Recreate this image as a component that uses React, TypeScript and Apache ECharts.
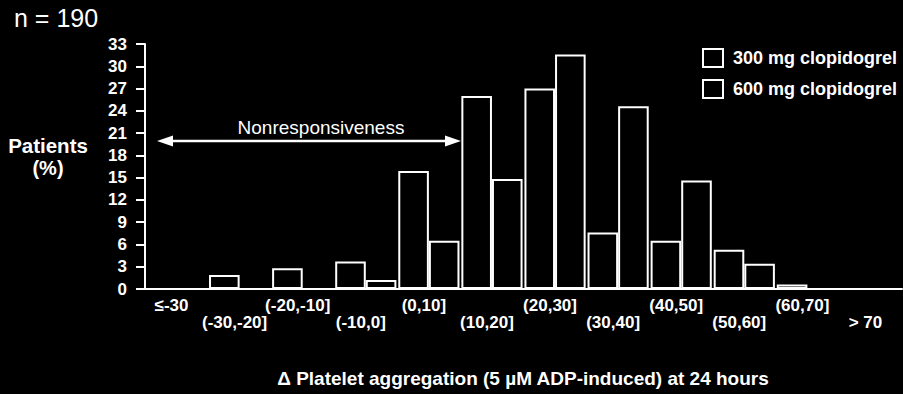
import React, { useEffect, useRef } from "react";
import * as echarts from "echarts";

const categories = [
  "≤-30", "(-30,-20]", "(-20,-10]", "(-10,0]", "(0,10]", "(10,20]",
  "(20,30]", "(30,40]", "(40,50]", "(50,60]", "(60,70]", "> 70",
];
const clopidogrel300 = [0, 1.9, 2.8, 3.7, 15.9, 26.0, 27.0, 7.6, 6.5, 5.3, 0.6, 0];
const clopidogrel600 = [0, 0, 0, 1.2, 6.5, 14.8, 31.6, 24.6, 14.6, 3.4, 0, 0];
const yTicks = { min: 0, max: 33, interval: 3 };
const seriesNames = ["300 mg clopidogrel", "600 mg clopidogrel"];

const FONT = "'Liberation Sans', Arial, Helvetica, sans-serif";

export default function App() {
  const ref = useRef<HTMLDivElement>(null);
  useEffect(() => {
    if (!ref.current) return;
    const chart = echarts.init(ref.current, null, { renderer: "svg" });
    const barStyle = { color: "#000", borderColor: "#fff", borderWidth: 2 };
    chart.setOption({
      animation: false,
      backgroundColor: "#000",
      grid: { left: 145, right: 1, top: 44, bottom: 105, containLabel: false },
      legend: {
        data: seriesNames,
        orient: "vertical",
        left: 702,
        top: 48,
        itemWidth: 20,
        itemHeight: 18,
        itemGap: 11,
        icon: "rect",
        padding: 0,
        textStyle: {
          color: "#fff",
          fontSize: 18,
          fontWeight: "bold",
          fontFamily: FONT,
          padding: [0, 0, 0, 5],
        },
      },
      xAxis: {
        type: "category",
        data: categories,
        boundaryGap: true,
        axisLine: { show: true, lineStyle: { color: "#fff", width: 2 } },
        axisTick: { show: false },
        axisLabel: {
          interval: 0,
          color: "#fff",
          fontSize: 17,
          fontWeight: "bold",
          fontFamily: FONT,
          margin: 8,
          lineHeight: 17,
          padding: [0, 10, 0, 0],
          formatter: (v: string, i: number) => (i % 2 ? "\n" + v : v),
        },
        splitLine: { show: false },
      },
      yAxis: {
        type: "value",
        min: yTicks.min,
        max: yTicks.max,
        interval: yTicks.interval,
        axisLine: { show: true, lineStyle: { color: "#fff", width: 2 } },
        axisTick: { show: true, length: 9, lineStyle: { color: "#fff", width: 2 } },
        axisLabel: {
          color: "#fff",
          fontSize: 17,
          fontWeight: "bold",
          fontFamily: FONT,
          margin: 18,
        },
        splitLine: { show: false },
      },
      series: [
        {
          name: seriesNames[0],
          type: "bar",
          data: clopidogrel300,
          itemStyle: barStyle,
          barGap: "0%",
          barCategoryGap: "3%",
        },
        {
          name: seriesNames[1],
          type: "bar",
          data: clopidogrel600,
          itemStyle: barStyle,
          barGap: "0%",
          barCategoryGap: "3%",
        },
      ],
      graphic: [
        {
          type: "text",
          left: 14,
          top: 5,
          style: { text: "n = 190", fill: "#fff", font: `25px ${FONT}` },
        },
        {
          type: "text",
          x: 48,
          y: 145,
          style: {
            text: "Patients",
            fill: "#fff",
            font: `bold 20.5px ${FONT}`,
            align: "center",
            verticalAlign: "middle",
          },
        },
        {
          type: "text",
          x: 48,
          y: 168,
          style: {
            text: "(%)",
            fill: "#fff",
            font: `bold 20px ${FONT}`,
            align: "center",
            verticalAlign: "middle",
          },
        },
        {
          type: "text",
          x: 321,
          y: 127,
          style: {
            text: "Nonresponsiveness",
            fill: "#fff",
            font: `19px ${FONT}`,
            align: "center",
            verticalAlign: "middle",
          },
        },
        {
          type: "line",
          shape: { x1: 168, y1: 141, x2: 450, y2: 141 },
          style: { stroke: "#fff", lineWidth: 2.5 },
        },
        {
          type: "polygon",
          shape: { points: [[157, 141], [173, 135.5], [173, 146.5]] },
          style: { fill: "#fff" },
        },
        {
          type: "polygon",
          shape: { points: [[461, 141], [445, 135.5], [445, 146.5]] },
          style: { fill: "#fff" },
        },
        {
          type: "text",
          x: 523,
          y: 378,
          style: {
            text: "Δ Platelet aggregation (5 µM ADP-induced) at 24 hours",
            fill: "#fff",
            font: `bold 19px ${FONT}`,
            align: "center",
            verticalAlign: "middle",
          },
        },
      ],
    });
    return () => chart.dispose();
  }, []);
  return (
    <div
      ref={ref}
      style={{ position: "absolute", left: 0, top: 0, width: 903, height: 394, background: "#000" }}
    />
  );
}
